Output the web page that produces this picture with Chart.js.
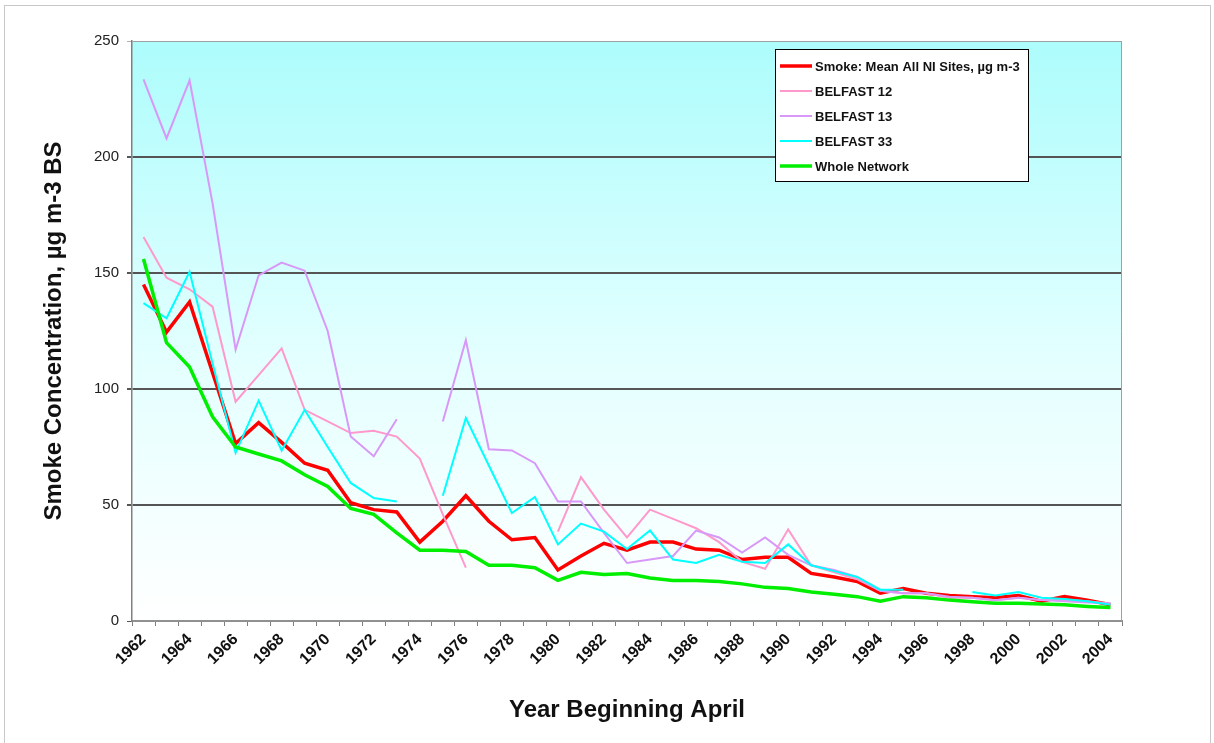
<!DOCTYPE html>
<html lang="en">
<head>
    <meta charset="UTF-8">
    <script src="https://cdn.jsdelivr.net/npm/chart.js"></script>
    <title>Smoke Concentration</title>
    <style>
        body { margin: 0; background: #fff; }
        #wrap { position: relative; width: 1214px; height: 743px; }
        #frame { position: absolute; left: 4px; top: 5px; width: 1205px; height: 760px; border: 1px solid #c8c8c8; pointer-events: none; }
    </style>
</head>
<body>
<div id="wrap">
    <canvas id="smokeChart" width="1214" height="743"></canvas>
    <div id="frame"></div>
</div>

<script>
    const years = ['1962', '1963', '1964', '1965', '1966', '1967', '1968', '1969', '1970', '1971',
        '1972', '1973', '1974', '1975', '1976', '1977', '1978', '1979', '1980', '1981',
        '1982', '1983', '1984', '1985', '1986', '1987', '1988', '1989', '1990', '1991',
        '1992', '1993', '1994', '1995', '1996', '1997', '1998', '1999', '2000', '2001',
        '2002', '2003', '2004'];

    const smokeMean = [145, 124.5, 137.5, 107, 76.5, 85.5, 77, 68, 65, 51,
        48, 47, 34, 43, 54, 43, 35, 36, 22, 28,
        33.5, 30.5, 34, 34, 31, 30.5, 26.5, 27.5, 27.5, 20.5,
        19, 17, 12, 14, 12, 11, 10.5, 10, 11, 8.5,
        10.5, 9, 7];
    const belfast12 = [165.5, 148, 143, 135.5, 94.5, 106, 117.5, 91, 86, 81,
        82, 79.5, 70, 46, 23, null, null, null, 38.5, 62,
        48, 36, 48, 44, 40, 34, 25.5, 22.5, 39.5, 24,
        21, 18, 13, 12, 12, 10, 10, 9, 10, 9,
        9, 8.5, 7.5];
    const belfast13 = [233.5, 208, 233, 180, 117, 149, 154.5, 151, 125, 79.5,
        71, 87, null, 86, 121, 74, 73.5, 68, 51.5, 51.5,
        38, 25, 26.5, 28, 39, 36, 29.5, 36, 28.5, 24,
        22, 19, 13, 12, 12, 10.5, 10, 9, 10, 9,
        8.5, 8, 7.5];
    const belfast33 = [137, 130.5, 150.5, 111, 72.5, 95, 73.5, 91, 75, 59.5,
        53, 51.5, null, 54, 87.5, 67, 46.5, 53.5, 33, 42,
        38.5, 31, 39, 26.5, 25, 28.5, 25.5, 25, 33, 24,
        21.5, 19, 13.5, 13.5, null, null, 12.5, 11, 12.5, 10,
        9.5, 8.5, 7];
    const wholeNetwork = [156, 120, 109.5, 88, 75, 72, 69, 63, 58, 48.5,
        46, 38, 30.5, 30.5, 30, 24, 24, 23, 17.5, 21,
        20, 20.5, 18.5, 17.5, 17.5, 17, 16, 14.5, 14, 12.5,
        11.5, 10.5, 8.5, 10.5, 10, 9, 8.3, 7.7, 7.7, 7.3,
        7, 6.3, 5.8];

    const yTicks = [0, 50, 100, 150, 200, 250];

    const FONT = '"Liberation Sans", Arial, sans-serif';

    // cyan-to-white fill behind the plot, plus the grey frame round it
    const plotBackground = {
        id: 'plotBackground',
        beforeDraw(chart) {
            const {ctx, chartArea: a} = chart;
            const g = ctx.createLinearGradient(0, a.top, 0, a.bottom);
            g.addColorStop(0, '#adfcfc');
            g.addColorStop(0.55, '#e4ffff');
            g.addColorStop(1, '#ffffff');
            ctx.save();
            ctx.fillStyle = g;
            ctx.fillRect(a.left, a.top, a.right - a.left, a.bottom - a.top);
            ctx.restore();
        },
        afterDatasetsDraw(chart) {
            const {ctx, chartArea: a} = chart;
            ctx.save();
            ctx.strokeStyle = '#a0a0a0';
            ctx.lineWidth = 1;
            ctx.beginPath();
            ctx.moveTo(a.left, a.top + 0.5);
            ctx.lineTo(a.right - 0.5, a.top + 0.5);
            ctx.lineTo(a.right - 0.5, a.bottom);
            ctx.stroke();
            ctx.restore();
        }
    };

    // boxed legend sitting inside the plot, top right
    const boxLegend = {
        id: 'boxLegend',
        afterDraw(chart) {
            const {ctx} = chart;
            const x = 775, y = 49, w = 253, h = 132;
            ctx.save();
            ctx.fillStyle = '#ffffff';
            ctx.fillRect(x, y, w, h);
            ctx.strokeStyle = '#000000';
            ctx.lineWidth = 1;
            ctx.strokeRect(x + 0.5, y + 0.5, w, h);
            ctx.beginPath();
            ctx.rect(x, y, w, h);
            ctx.clip();
            ctx.font = 'bold 13px ' + FONT;
            ctx.textBaseline = 'middle';
            chart.data.datasets.forEach((ds, i) => {
                const ry = y + 17 + i * 25;
                ctx.strokeStyle = ds.borderColor;
                ctx.lineWidth = ds.borderWidth;
                ctx.beginPath();
                ctx.moveTo(x + 5, ry);
                ctx.lineTo(x + 37, ry);
                ctx.stroke();
                ctx.fillStyle = '#111111';
                ctx.fillText(ds.label, x + 40, ry + 1);
            });
            ctx.restore();
        }
    };

    function series(label, data, color, width, order) {
        return {
            label: label,
            data: data,
            borderColor: color,
            backgroundColor: color,
            borderWidth: width,
            pointRadius: 0,
            pointHoverRadius: 0,
            tension: 0,
            spanGaps: false,
            fill: false,
            order: order
        };
    }

    const ctx = document.getElementById('smokeChart').getContext('2d');
    const smokeChart = new Chart(ctx, {
        type: 'line',
        data: {
            labels: years,
            datasets: [
                series('Smoke: Mean All NI Sites, \u00b5g m-3', smokeMean, '#ff0000', 3.5, 5),
                series('BELFAST 12', belfast12, '#ff99cc', 2, 4),
                series('BELFAST 13', belfast13, '#d898f8', 2, 3),
                series('BELFAST 33', belfast33, '#00ffff', 2, 2),
                series('Whole Network', wholeNetwork, '#00ee00', 3.5, 1)
            ]
        },
        options: {
            responsive: false,
            animation: false,
            layout: {padding: {left: 36, top: 41, right: 92, bottom: 14}},
            plugins: {
                legend: {display: false},
                tooltip: {enabled: false}
            },
            scales: {
                x: {
                    offset: true,
                    grid: {
                        offset: true,
                        drawOnChartArea: false,
                        tickLength: 5,
                        color: '#808080'
                    },
                    border: {color: '#909090', width: 2},
                    ticks: {
                        autoSkip: false,
                        maxRotation: 45,
                        minRotation: 45,
                        padding: 4,
                        color: '#111111',
                        font: {family: FONT, size: 16, weight: 'bold'},
                        callback: (v, i) => (i % 2 === 0 ? years[i] : '')
                    },
                    title: {
                        display: true,
                        text: 'Year Beginning April',
                        color: '#111111',
                        padding: {top: 0, bottom: 4},
                        font: {family: FONT, size: 24, weight: 'bold'}
                    },
                    afterFit: (s) => { s.height = 108; }
                },
                y: {
                    min: yTicks[0],
                    max: yTicks[yTicks.length - 1],
                    afterBuildTicks: (s) => { s.ticks = yTicks.map(v => ({value: v})); },
                    grid: {
                        tickLength: 5,
                        color: (c) => (c.tick && c.tick.value === 250 ? '#b0b0b0' : '#555555'),
                        lineWidth: (c) => (c.tick && (c.tick.value === 250 || c.tick.value === 0) ? 1 : 2)
                    },
                    border: {color: '#808080', width: 1.5},
                    ticks: {
                        padding: 8,
                        color: '#222222',
                        font: {family: FONT, size: 15}
                    },
                    title: {
                        display: true,
                        text: 'Smoke Concentration, \u00b5g m-3 BS',
                        color: '#111111',
                        padding: {top: 4, bottom: 0},
                        font: {family: FONT, size: 24, weight: 'bold'}
                    },
                    afterFit: (s) => { s.width = 96; }
                }
            }
        },
        plugins: [plotBackground, boxLegend]
    });
</script>
</body>
</html>
